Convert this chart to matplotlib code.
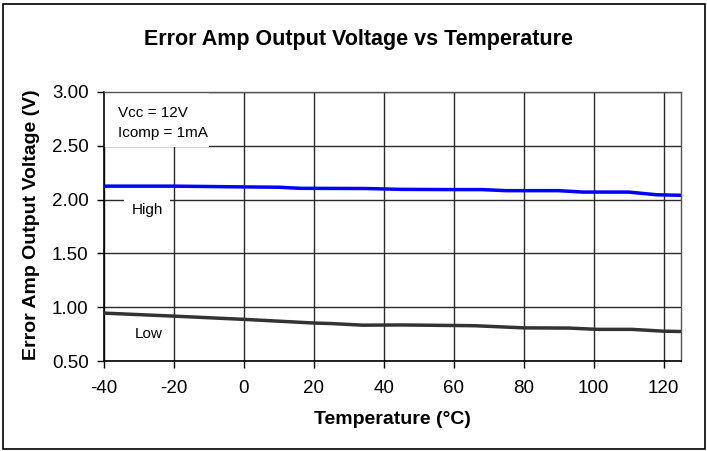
import matplotlib
matplotlib.use("Agg")
import matplotlib.pyplot as plt
from matplotlib.patches import Rectangle

plt.rcParams['font.family'] = ['Liberation Sans', 'DejaVu Sans']

temp_high = [-40, -20, 0, 10, 16, 35, 45, 60, 68, 75, 90, 97, 110, 118, 125]
volt_high = [2.125, 2.125, 2.118, 2.115, 2.105, 2.103, 2.095, 2.093, 2.093, 2.083, 2.083, 2.07, 2.07, 2.045, 2.04]

temp_low = [-40, -20, 0, 20, 25, 34, 45, 66, 80, 93, 101, 111, 120, 125]
volt_low = [0.945, 0.917, 0.887, 0.853, 0.848, 0.833, 0.835, 0.828, 0.808, 0.806, 0.794, 0.794, 0.777, 0.774]

x_ticks = [-40, -20, 0, 20, 40, 60, 80, 100, 120]
y_ticks = [0.50, 1.00, 1.50, 2.00, 2.50, 3.00]

fig = plt.figure(figsize=(7.07, 4.51), dpi=100)
ax = fig.add_axes([104/707, 1-361/451, (681-104)/707, (361-92)/451])

ax.set_xlim(-40, 125)
ax.set_ylim(0.5, 3.0)
ax.set_xticks(x_ticks)
ax.set_yticks(y_ticks)
ax.set_xticklabels([str(v) for v in x_ticks], fontsize=13.5)
ax.set_yticklabels([f"{v:.2f}" for v in y_ticks], fontsize=13.5)
ax.tick_params(direction='out', length=5, width=1, color='black')
ax.tick_params(axis='x', pad=9)
ax.tick_params(axis='y', pad=6)
ax.grid(True, color='#2a2a2a', linewidth=1)
ax.set_axisbelow(True)
for s in ['left', 'bottom']:
    ax.spines[s].set_color('black')
    ax.spines[s].set_linewidth(1.2)
for s in ['top', 'right']:
    ax.spines[s].set_color('#555555')
    ax.spines[s].set_linewidth(1)

ax.plot(temp_high, volt_high, color='#0000ff', linewidth=2.5, zorder=3)
ax.plot(temp_low, volt_low, color='#333333', linewidth=2.5, zorder=3)

# white annotation box
ax.add_patch(Rectangle((0, 1 - 55/269), 105/577, 55/269, transform=ax.transAxes,
                       facecolor='white', edgecolor='none', zorder=2))
ax.text((118-104)/577, 1 - (113-92)/269, "Vcc = 12V", transform=ax.transAxes,
        fontsize=11, va='center', ha='left', zorder=4)
ax.text((118-104)/577, 1 - (133-92)/269, "Icomp = 1mA", transform=ax.transAxes,
        fontsize=11, va='center', ha='left', zorder=4)
ax.text((147-104)/577, 1 - (210-92)/269, "High", transform=ax.transAxes,
        fontsize=11, va='center', ha='center', zorder=4,
        bbox=dict(facecolor='white', edgecolor='none', pad=5))
ax.text((149-104)/577, 1 - (334-92)/269, "Low", transform=ax.transAxes,
        fontsize=11, va='center', ha='center', zorder=4,
        bbox=dict(facecolor='white', edgecolor='none', pad=2))

fig.text(358/707, 1 - 39/451, "Error Amp Output Voltage vs Temperature",
         fontsize=15.5, fontweight='bold', ha='center', va='center')
fig.text(32/707, 1 - 225/451, "Error Amp Output Voltage (V)", rotation=90,
         fontsize=14, fontweight='bold', ha='center', va='center')
fig.text(392/707, 1 - 420/451, "Temperature (°C)",
         fontsize=14, fontweight='bold', ha='center', va='center')

fig.add_artist(Rectangle((3/707, 2/451), 702/707, 445/451, transform=fig.transFigure,
                         facecolor='none', edgecolor='black', linewidth=1.2))

fig.savefig("out.png", dpi=100)
